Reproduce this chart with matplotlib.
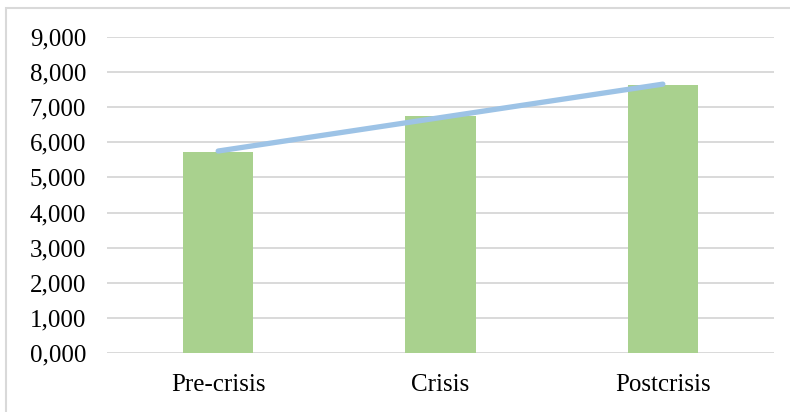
import numpy as np
import matplotlib.pyplot as plt
from matplotlib.patches import Rectangle

periods = ["Pre-crisis", "Crisis", "Postcrisis"]
values = [5.73, 6.75, 7.635]
yticks = [0, 1, 2, 3, 4, 5, 6, 7, 8, 9]

W, H = 790, 412
fig = plt.figure(figsize=(W / 100, H / 100), dpi=100)
ax = fig.add_axes([107 / W, (H - 353) / H, (774 - 107) / W, (353 - 37) / H])

x = np.arange(len(periods))
ax.bar(x, values, width=0.315, color="#a9d18e", zorder=2)

# linear trend line over the bars
k, b = np.polyfit(x, values, 1)
ax.plot(x[[0, -1]], k * x[[0, -1]] + b, color="#9dc3e6", lw=3.8,
        solid_capstyle="round", zorder=3)

ax.set_xlim(-0.5, len(periods) - 0.5)
ax.set_ylim(0, 9)
ax.set_yticks(yticks)
ax.set_yticklabels([f"{t:.3f}".replace(".", ",") for t in yticks])
ax.set_xticks(x)
ax.set_xticklabels(periods)
ax.grid(axis="y", color="#d9d9d9", lw=1.4, zorder=0)
ax.tick_params(length=0, labelsize=18, colors="black")
ax.tick_params(axis="y", pad=15)
ax.tick_params(axis="x", pad=15)
for lbl in ax.get_xticklabels() + ax.get_yticklabels():
    lbl.set_family("Liberation Serif")
for s in ax.spines.values():
    s.set_visible(False)

# chart frame (cut off on the right and bottom)
fig.patches.append(Rectangle((6 / W, -0.1), 2, 1.1 - 8 / H, transform=fig.transFigure,
                             fill=False, ec="#d9d9d9", lw=1.5))

fig.savefig("out.png", dpi=100)
